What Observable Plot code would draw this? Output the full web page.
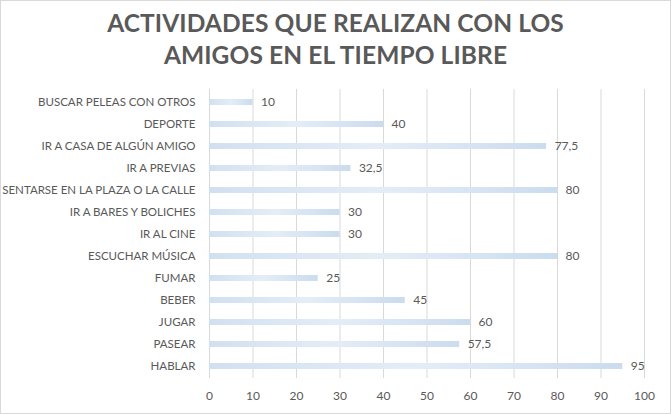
<!DOCTYPE html>
<html><head><meta charset="utf-8">
<script src="https://cdn.jsdelivr.net/npm/d3@7"></script>
<script src="https://cdn.jsdelivr.net/npm/@observablehq/plot@0.6"></script>
<style>
html,body{margin:0;padding:0;background:#fff;}
#wrap{position:relative;width:669px;height:412px;border:1px solid #d9d9d9;overflow:hidden;font-family:Lato,"Open Sans",sans-serif;}
#title{height:79px;text-align:center;font-weight:bold;font-size:24.5px;line-height:32px;color:#595959;padding-top:6px;box-sizing:border-box;letter-spacing:0.1px;}
</style></head>
<body><div id="wrap"><div id="title">ACTIVIDADES QUE REALIZAN CON LOS<br>AMIGOS EN EL TIEMPO LIBRE</div><div id="chart"></div></div>
<script>
const categories = ["BUSCAR PELEAS CON OTROS","DEPORTE","IR A CASA DE ALGÚN AMIGO","IR A PREVIAS","SENTARSE EN LA PLAZA O LA CALLE","IR A BARES Y BOLICHES","IR AL CINE","ESCUCHAR MÚSICA","FUMAR","BEBER","JUGAR","PASEAR","HABLAR"];
const values = [10,40,77.5,32.5,80,30,30,80,25,45,60,57.5,95];
const xTicks = [0,10,20,30,40,50,60,70,80,90,100];
const data = categories.map((c,i)=>({cat:c,val:values[i]}));
const fmt = v => String(v).replace(".", ",");
const chart = Plot.plot({
  width: 669, height: 333,
  marginLeft: 208, marginRight: 26, marginTop: 9, marginBottom: 35,
  style: {fontFamily: "Lato, 'Open Sans', sans-serif", fontSize: "11.5px", color: "#595959", background: "transparent"},
  x: {domain: [0,100], ticks: xTicks, tickSize: 0, tickPadding: 13, label: null, tickFormat: d => d},
  y: {domain: categories, paddingInner: 0.74, paddingOuter: 0.37, tickSize: 0, tickPadding: 14, label: null},
  marks: [
    Plot.ruleX(xTicks, {stroke: "#d9d9d9", strokeWidth: 1}),
    Plot.barX(data, {x: "val", y: "cat", fill: "url(#bargrad)"}),
    Plot.text(data, {x: "val", y: "cat", text: d => fmt(d.val), dx: 8, textAnchor: "start", fill: "#595959", fontSize: 12})
  ]
});
chart.querySelectorAll("g[aria-label='x-axis tick label'] text").forEach(t => t.setAttribute("font-size", "12"));
const svgns = "http://www.w3.org/2000/svg";
const defs = document.createElementNS(svgns, "defs");
defs.innerHTML = '<linearGradient id="bargrad" x1="0" x2="1" y1="0" y2="0"><stop offset="0" stop-color="#d1e0f0"/><stop offset="0.5" stop-color="#e4edf7"/><stop offset="1" stop-color="#cbdcef"/></linearGradient>';
chart.insertBefore(defs, chart.firstChild);
document.getElementById("chart").appendChild(chart);
</script></body></html>
